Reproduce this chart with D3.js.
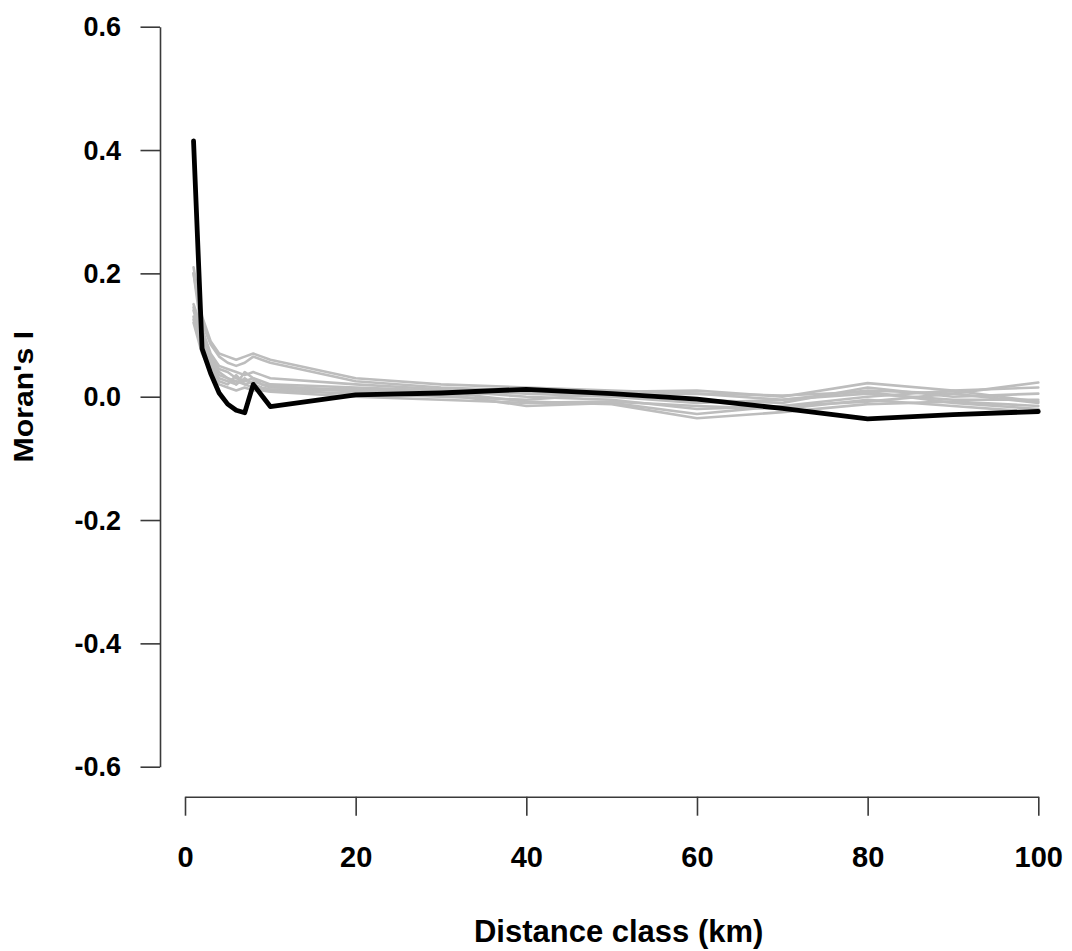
<!DOCTYPE html>
<html>
<head>
<meta charset="utf-8">
<script src="https://cdn.jsdelivr.net/npm/d3@7"></script>
<style>
  html, body { margin: 0; padding: 0; background: #fff; }
  svg { display: block; }
  text { font-family: "Liberation Sans", Arial, sans-serif; font-weight: bold; fill: #000; }
</style>
</head>
<body>
<svg id="chart" width="1072" height="951"></svg>
<script>
// Distance classes (km) at which Moran's I was computed
const distanceClasses = [1, 2, 3, 4, 5, 6, 7, 8, 9, 10, 20, 30, 40, 50, 60, 70, 80, 90, 100];

// Observed correlogram
const observed = [0.415, 0.078, 0.038, 0.006, -0.012, -0.022, -0.026, 0.020, 0.002, -0.016,
                  0.003, 0.006, 0.012, 0.005, -0.004, -0.019, -0.036, -0.029, -0.024];

// Replicate correlograms (grey)
const replicate1 = [0.210, 0.130, 0.090, 0.070, 0.065, 0.060, 0.065, 0.070, 0.065, 0.060, 0.030, 0.020, 0.015, 0.010, 0.005, -0.005, 0.010, 0.005, 0.023];
const replicate2 = [0.200, 0.120, 0.085, 0.065, 0.055, 0.050, 0.055, 0.065, 0.060, 0.055, 0.025, 0.015, 0.010, 0.008, 0.010, 0.000, 0.022, 0.010, 0.015];
const replicate3 = [0.150, 0.110, 0.070, 0.050, 0.045, 0.040, 0.035, 0.040, 0.035, 0.030, 0.020, 0.012, 0.005, 0.000, -0.010, -0.005, 0.005, -0.005, -0.005];
const replicate4 = [0.145, 0.100, 0.065, 0.045, 0.040, 0.030, 0.025, 0.030, 0.025, 0.020, 0.015, 0.010, 0.000, -0.005, -0.020, -0.015, -0.008, 0.005, -0.010];
const replicate5 = [0.140, 0.090, 0.055, 0.035, 0.030, 0.025, 0.020, 0.025, 0.020, 0.015, 0.012, 0.008, -0.008, -0.012, -0.035, -0.025, -0.012, -0.008, -0.015];
const replicate6 = [0.130, 0.080, 0.050, 0.030, 0.025, 0.020, 0.030, 0.020, 0.015, 0.012, 0.010, 0.005, -0.015, -0.010, -0.028, -0.015, 0.000, 0.010, -0.008];
const replicate7 = [0.125, 0.075, 0.045, 0.025, 0.020, 0.035, 0.020, 0.015, 0.012, 0.010, 0.005, 0.000, -0.005, 0.005, -0.005, -0.010, 0.015, 0.000, 0.005];
const replicate8 = [0.120, 0.070, 0.040, 0.020, 0.015, 0.010, 0.015, 0.010, 0.010, 0.008, 0.000, -0.005, -0.010, -0.008, -0.015, -0.020, -0.005, -0.015, -0.025];
const replicate9 = [0.200, 0.100, 0.060, 0.040, 0.030, 0.020, 0.040, 0.030, 0.020, 0.018, 0.008, 0.003, 0.008, 0.002, 0.005, 0.002, 0.008, -0.010, -0.020];
const replicates = [replicate1, replicate2, replicate3, replicate4, replicate5, replicate6, replicate7, replicate8, replicate9];

// Axis ticks
const xTicks = [0, 20, 40, 60, 80, 100];
const yTicks = [-0.6, -0.4, -0.2, 0.0, 0.2, 0.4, 0.6];

const svg = d3.select("#chart");

const x = d3.scaleLinear().domain([0, 100]).range([185, 1038.3]);
const y = d3.scaleLinear().domain([-0.6, 0.6]).range([766.7, 26.7]);

const axisColor = "#3a3a3a";

// y axis (line spans first to last tick)
const yAxisX = 160;
const yAxis = d3.axisLeft(y).tickValues(yTicks).tickSize(19.5).tickSizeOuter(0)
  .tickFormat(d => d3.format(".1f")(d).replace("−", "-"));
const gy = svg.append("g").attr("transform", `translate(${yAxisX},0)`).call(yAxis);
gy.select(".domain").attr("stroke", axisColor).attr("stroke-width", 1.6);
gy.selectAll(".tick line").attr("stroke", axisColor).attr("stroke-width", 1.6);
gy.selectAll(".tick text")
  .attr("x", -39).attr("dy", null).attr("dominant-baseline", "central")
  .attr("text-anchor", "end")
  .style("font-size", "27px");

// x axis
const xAxisY = 796.7;
const xAxis = d3.axisBottom(x).tickValues(xTicks).tickSize(19).tickSizeOuter(0)
  .tickFormat(d3.format("d"));
const gx = svg.append("g").attr("transform", `translate(0,${xAxisY})`).call(xAxis);
gx.select(".domain").attr("stroke", axisColor).attr("stroke-width", 1.6);
gx.selectAll(".tick line").attr("stroke", axisColor).attr("stroke-width", 1.6);
gx.selectAll(".tick text")
  .attr("y", 70).attr("dy", null)
  .style("font-size", "29px");
svg.selectAll(".domain").attr("fill", "none");
svg.selectAll("g").attr("font-family", null).attr("font-size", null);

// Axis titles
svg.append("text")
  .attr("x", (x(0) + x(100)) / 2 + 7).attr("y", 942)
  .attr("text-anchor", "middle")
  .style("font-size", "31px")
  .text("Distance class (km)");

svg.append("text")
  .attr("transform", `translate(33,${y(0)}) rotate(-90) scale(1.12,1)`)
  .attr("text-anchor", "middle")
  .style("font-size", "27px")
  .text("Moran's I");

// Lines
const line = d3.line()
  .x((d, i) => x(distanceClasses[i]))
  .y(d => y(d));

svg.append("g").selectAll("path")
  .data(replicates)
  .join("path")
  .attr("d", line)
  .attr("fill", "none")
  .attr("stroke", "#bdbdbd")
  .attr("stroke-width", 2.6)
  .attr("stroke-linejoin", "round")
  .attr("stroke-linecap", "round");

svg.append("path")
  .datum(observed)
  .attr("d", line)
  .attr("fill", "none")
  .attr("stroke", "#000")
  .attr("stroke-width", 4.8)
  .attr("stroke-linejoin", "round")
  .attr("stroke-linecap", "round");
</script>
</body>
</html>
